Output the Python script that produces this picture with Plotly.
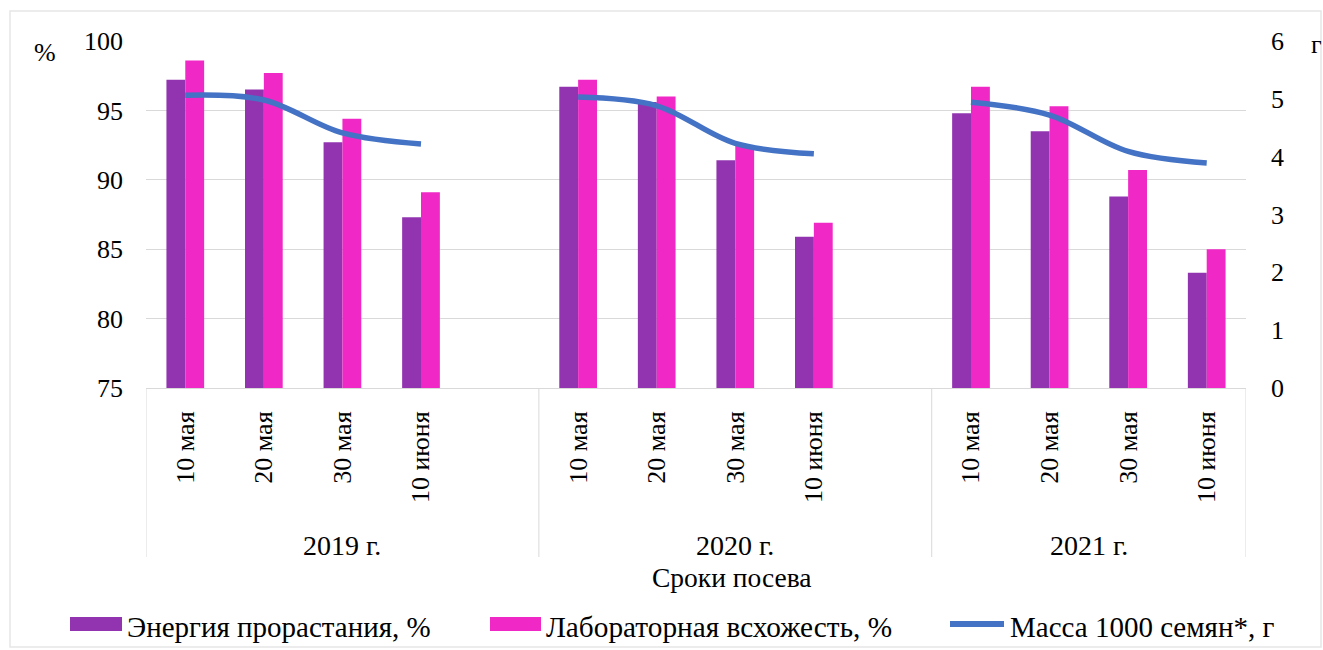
import plotly.graph_objects as go

# data
years = ["2019 г.", "2020 г.", "2021 г."]
dates = ["10 мая", "20 мая", "30 мая", "10 июня"]
energy = [97.2, 96.5, 92.7, 87.3, 96.7, 95.6, 91.4, 85.9, 94.8, 93.5, 88.8, 83.3]
lab = [98.6, 97.7, 94.4, 89.1, 97.2, 96.0, 92.5, 86.9, 96.7, 95.3, 90.7, 85.0]
mass = [5.06, 4.98, 4.41, 4.22, 5.03, 4.88, 4.23, 4.05, 4.94, 4.72, 4.09, 3.89]

FONT = "Liberation Serif, Times New Roman, serif"
W, H = 1323, 650
L, R, T, B = 146, 1246, 41, 388   # plot area in pixels


def px(x):
    return (x - L) / (R - L)


def py(y):
    return (B - y) / (B - T)


# each year gets its 4 dates plus one empty slot after it (except the last)
slot = len(dates) + 1
xpos, ticktext = [], []
line_x, line_y = [], []
for i, yr in enumerate(years):
    for j, d in enumerate(dates):
        xpos.append(i * slot + j)
        ticktext.append(d)
        line_x.append(i * slot + j)
        line_y.append(mass[i * len(dates) + j])
    line_x.append(None)
    line_y.append(None)

fig = go.Figure()
fig.add_trace(go.Bar(x=xpos, y=energy, name="Энергия прорастания, %",
                     marker_color="#9234B0", marker_line_width=0))
fig.add_trace(go.Bar(x=xpos, y=lab, name="Лабораторная всхожесть, %",
                     marker_color="#F028C6", marker_line_width=0))
fig.add_trace(go.Scatter(x=line_x, y=line_y, yaxis="y2", mode="lines",
                         name="Масса 1000 семян*, г", connectgaps=False,
                         line=dict(color="#4472C4", width=5.5, shape="spline")))

last = xpos[-1]
fig.update_layout(
    width=W, height=H,
    margin=dict(l=L, r=W - R, t=T, b=H - B, autoexpand=False),
    paper_bgcolor="white", plot_bgcolor="white",
    barmode="group", bargap=0.52, bargroupgap=0,
    showlegend=False,
    font=dict(family=FONT, size=26, color="black"),
    xaxis=dict(range=[-0.5, last + 0.5], tickvals=xpos, ticktext=ticktext,
               tickangle=-90, showgrid=False, zeroline=False,
               showline=True, linecolor="#d9d9d9", linewidth=1,
               ticklabelstandoff=12, automargin=False,
               tickfont=dict(family=FONT, size=26)),
    yaxis=dict(range=[75, 100], dtick=5, gridcolor="#d9d9d9", gridwidth=1,
               zeroline=False, showline=False, ticklabelstandoff=22,
               automargin=False, tickfont=dict(family=FONT, size=26)),
    yaxis2=dict(range=[0, 6], dtick=1, overlaying="y", side="right",
                showgrid=False, zeroline=False, showline=False,
                ticklabelstandoff=24, automargin=False,
                tickfont=dict(family=FONT, size=26)),
)

shapes = []
# group dividers under the axis
bounds = [-0.5] + [i * slot + len(dates) + 0.5 for i in range(len(years) - 1)] + [last + 0.5]
for xb in bounds:
    shapes.append(dict(type="line", xref="x", yref="paper", x0=xb, x1=xb,
                       y0=0, y1=py(557), line=dict(color="#d9d9d9", width=1)))
# outer chart border
shapes.append(dict(type="rect", xref="paper", yref="paper",
                   x0=px(10), x1=px(1321), y0=py(11), y1=py(647),
                   line=dict(color="#e6e6e6", width=1.5)))
# legend swatches
shapes.append(dict(type="rect", xref="paper", yref="paper", x0=px(70), x1=px(122),
                   y0=py(631), y1=py(617), fillcolor="#9234B0", line_width=0))
shapes.append(dict(type="rect", xref="paper", yref="paper", x0=px(490), x1=px(541),
                   y0=py(631), y1=py(617), fillcolor="#F028C6", line_width=0))
shapes.append(dict(type="line", xref="paper", yref="paper", x0=px(950), x1=px(1004),
                   y0=py(624), y1=py(624), line=dict(color="#4472C4", width=6)))

annotations = []
for i, yr in enumerate(years):
    annotations.append(dict(text=yr, xref="x", yref="paper",
                            x=(bounds[i] + bounds[i + 1]) / 2, y=py(545),
                            showarrow=False, xanchor="center", yanchor="middle",
                            font=dict(size=28)))
annotations += [
    dict(text="Сроки посева", x=px(732), y=py(578), font=dict(size=27.5)),
    dict(text="%", x=px(45), y=py(52)),
    dict(text="г", x=px(1316), y=py(44)),
    dict(text="Энергия прорастания, %", x=px(125), y=py(627), xanchor="left",
         font=dict(size=29)),
    dict(text="Лабораторная всхожесть, %", x=px(544), y=py(627), xanchor="left",
         font=dict(size=29.3)),
    dict(text="Масса 1000 семян*, г", x=px(1008), y=py(627), xanchor="left",
         font=dict(size=29)),
]
for a in annotations[len(years):]:
    a.update(xref="paper", yref="paper", showarrow=False, yanchor="middle")
    a.setdefault("xanchor", "center")

fig.update_layout(shapes=shapes, annotations=annotations)

fig.write_html("out.html", config={"displayModeBar": False},
               post_script="document.body.style.margin='0';")
